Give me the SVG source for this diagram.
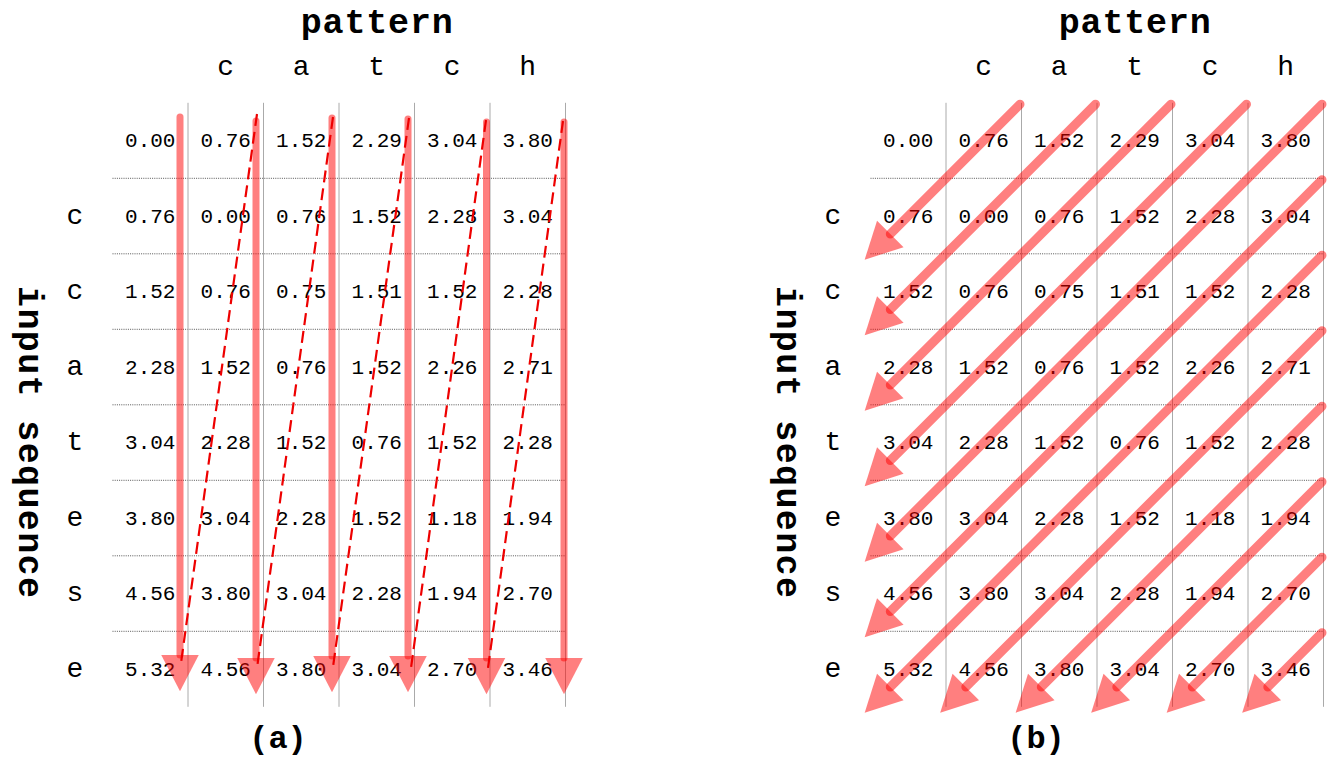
<svg xmlns="http://www.w3.org/2000/svg" width="1332" height="759" viewBox="0 0 1332 759">
<style>
.bg{fill:#ffffff}
.h{stroke:#555;stroke-width:1;stroke-dasharray:1 1.2;fill:none}
.v{stroke:#aaa;stroke-width:1;fill:none}
.val{font-family:"Liberation Mono","Courier New",monospace;font-size:21px;fill:#000;text-anchor:middle}
.lab{font-family:"Liberation Mono","Courier New",monospace;font-size:28px;fill:#000;text-anchor:middle}
.title{font-family:"Liberation Mono","Courier New",monospace;font-size:35px;font-weight:bold;fill:#000;text-anchor:middle}
.cap{font-family:"Liberation Mono","Courier New",monospace;font-size:32px;font-weight:bold;fill:#000;text-anchor:middle}
.va{stroke:#ff0000;stroke-opacity:0.5;stroke-width:7;stroke-linecap:round;fill:none;marker-end:url(#head)}
.db{stroke:#ff0000;stroke-opacity:0.5;stroke-width:9;stroke-linecap:round;fill:none;marker-end:url(#head)}
.dash{stroke:#ee0000;stroke-width:2.2;stroke-dasharray:12 6;fill:none}
</style>
<defs>
<marker id="head" markerUnits="userSpaceOnUse" markerWidth="40" markerHeight="40" viewBox="-1 -16 31 32" refX="0" refY="0" orient="auto" overflow="visible">
<path d="M0,-15 L29,0 L0,15 Z" fill="#ff0000" fill-opacity="0.5"/>
</marker>
</defs>
<rect class="bg" x="0" y="0" width="1332" height="759"/>

<!-- ===== Panel (a) ===== -->
<g id="grid-a">
<line class="h" x1="112.5" y1="178.3" x2="565.5" y2="178.3"/>
<line class="h" x1="112.5" y1="253.8" x2="565.5" y2="253.8"/>
<line class="h" x1="112.5" y1="329.3" x2="565.5" y2="329.3"/>
<line class="h" x1="112.5" y1="404.8" x2="565.5" y2="404.8"/>
<line class="h" x1="112.5" y1="480.3" x2="565.5" y2="480.3"/>
<line class="h" x1="112.5" y1="555.8" x2="565.5" y2="555.8"/>
<line class="h" x1="112.5" y1="631.3" x2="565.5" y2="631.3"/>
<line class="v" x1="188" y1="102.8" x2="188" y2="706.8"/>
<line class="v" x1="263.5" y1="102.8" x2="263.5" y2="706.8"/>
<line class="v" x1="339" y1="102.8" x2="339" y2="706.8"/>
<line class="v" x1="414.5" y1="102.8" x2="414.5" y2="706.8"/>
<line class="v" x1="490" y1="102.8" x2="490" y2="706.8"/>
<line class="v" x1="565.5" y1="102.8" x2="565.5" y2="706.8"/>
</g>
<g id="labels-a">
<text class="title" x="376.75" y="33" textLength="152" lengthAdjust="spacing">pattern</text>
<text class="lab" x="225.75" y="75">c</text>
<text class="lab" x="301.25" y="75">a</text>
<text class="lab" x="376.75" y="75">t</text>
<text class="lab" x="452.25" y="75">c</text>
<text class="lab" x="527.75" y="75">h</text>
<text class="title" transform="translate(19,442) rotate(90)" x="0" y="0" textLength="312" lengthAdjust="spacing">input sequence</text>
<text class="lab" x="75" y="223.5">c</text>
<text class="lab" x="75" y="299">c</text>
<text class="lab" x="75" y="374.5">a</text>
<text class="lab" x="75" y="450">t</text>
<text class="lab" x="75" y="525.5">e</text>
<text class="lab" x="75" y="601">s</text>
<text class="lab" x="75" y="676.5">e</text>
<text class="cap" x="278" y="748">(a)</text>
</g>
<g id="values-a">
<text class="val" x="150.25" y="147">0.00</text><text class="val" x="225.75" y="147">0.76</text><text class="val" x="301.25" y="147">1.52</text><text class="val" x="376.75" y="147">2.29</text><text class="val" x="452.25" y="147">3.04</text><text class="val" x="527.75" y="147">3.80</text>
<text class="val" x="150.25" y="222.5">0.76</text><text class="val" x="225.75" y="222.5">0.00</text><text class="val" x="301.25" y="222.5">0.76</text><text class="val" x="376.75" y="222.5">1.52</text><text class="val" x="452.25" y="222.5">2.28</text><text class="val" x="527.75" y="222.5">3.04</text>
<text class="val" x="150.25" y="298">1.52</text><text class="val" x="225.75" y="298">0.76</text><text class="val" x="301.25" y="298">0.75</text><text class="val" x="376.75" y="298">1.51</text><text class="val" x="452.25" y="298">1.52</text><text class="val" x="527.75" y="298">2.28</text>
<text class="val" x="150.25" y="373.5">2.28</text><text class="val" x="225.75" y="373.5">1.52</text><text class="val" x="301.25" y="373.5">0.76</text><text class="val" x="376.75" y="373.5">1.52</text><text class="val" x="452.25" y="373.5">2.26</text><text class="val" x="527.75" y="373.5">2.71</text>
<text class="val" x="150.25" y="449">3.04</text><text class="val" x="225.75" y="449">2.28</text><text class="val" x="301.25" y="449">1.52</text><text class="val" x="376.75" y="449">0.76</text><text class="val" x="452.25" y="449">1.52</text><text class="val" x="527.75" y="449">2.28</text>
<text class="val" x="150.25" y="524.5">3.80</text><text class="val" x="225.75" y="524.5">3.04</text><text class="val" x="301.25" y="524.5">2.28</text><text class="val" x="376.75" y="524.5">1.52</text><text class="val" x="452.25" y="524.5">1.18</text><text class="val" x="527.75" y="524.5">1.94</text>
<text class="val" x="150.25" y="600">4.56</text><text class="val" x="225.75" y="600">3.80</text><text class="val" x="301.25" y="600">3.04</text><text class="val" x="376.75" y="600">2.28</text><text class="val" x="452.25" y="600">1.94</text><text class="val" x="527.75" y="600">2.70</text>
<text class="val" x="150.25" y="675.5">5.32</text><text class="val" x="225.75" y="675.5">4.56</text><text class="val" x="301.25" y="675.5">3.80</text><text class="val" x="376.75" y="675.5">3.04</text><text class="val" x="452.25" y="675.5">2.70</text><text class="val" x="527.75" y="675.5">3.46</text>
</g>
<g id="connectors-a">
<line class="va" x1="180" y1="117" x2="180" y2="655"/>
<line class="va" x1="256" y1="121" x2="256" y2="658"/>
<line class="va" x1="332" y1="118" x2="332" y2="656"/>
<line class="va" x1="408" y1="119" x2="408" y2="656"/>
<line class="va" x1="486.5" y1="122" x2="486.5" y2="658"/>
<line class="va" x1="564" y1="122" x2="564" y2="658"/>
<line class="dash" x1="257" y1="114" x2="181" y2="663"/>
<line class="dash" x1="333" y1="117" x2="257" y2="668"/>
<line class="dash" x1="409" y1="118" x2="333" y2="667"/>
<line class="dash" x1="486" y1="120" x2="411" y2="668"/>
<line class="dash" x1="563" y1="121" x2="488" y2="668"/>
</g>

<!-- ===== Panel (b) ===== -->
<g id="grid-b">
<line class="h" x1="870.5" y1="178.3" x2="1323.5" y2="178.3"/>
<line class="h" x1="870.5" y1="253.8" x2="1323.5" y2="253.8"/>
<line class="h" x1="870.5" y1="329.3" x2="1323.5" y2="329.3"/>
<line class="h" x1="870.5" y1="404.8" x2="1323.5" y2="404.8"/>
<line class="h" x1="870.5" y1="480.3" x2="1323.5" y2="480.3"/>
<line class="h" x1="870.5" y1="555.8" x2="1323.5" y2="555.8"/>
<line class="h" x1="870.5" y1="631.3" x2="1323.5" y2="631.3"/>
<line class="v" x1="946" y1="102.8" x2="946" y2="706.8"/>
<line class="v" x1="1021.5" y1="102.8" x2="1021.5" y2="706.8"/>
<line class="v" x1="1097" y1="102.8" x2="1097" y2="706.8"/>
<line class="v" x1="1172.5" y1="102.8" x2="1172.5" y2="706.8"/>
<line class="v" x1="1248" y1="102.8" x2="1248" y2="706.8"/>
<line class="v" x1="1323.5" y1="102.8" x2="1323.5" y2="706.8"/>
</g>
<g id="labels-b">
<text class="title" x="1134.75" y="33" textLength="152" lengthAdjust="spacing">pattern</text>
<text class="lab" x="983.75" y="75">c</text>
<text class="lab" x="1059.25" y="75">a</text>
<text class="lab" x="1134.75" y="75">t</text>
<text class="lab" x="1210.25" y="75">c</text>
<text class="lab" x="1285.75" y="75">h</text>
<text class="title" transform="translate(777,442) rotate(90)" x="0" y="0" textLength="312" lengthAdjust="spacing">input sequence</text>
<text class="lab" x="833" y="223.5">c</text>
<text class="lab" x="833" y="299">c</text>
<text class="lab" x="833" y="374.5">a</text>
<text class="lab" x="833" y="450">t</text>
<text class="lab" x="833" y="525.5">e</text>
<text class="lab" x="833" y="601">s</text>
<text class="lab" x="833" y="676.5">e</text>
<text class="cap" x="1036" y="748">(b)</text>
</g>
<g id="values-b">
<text class="val" x="908.25" y="147">0.00</text><text class="val" x="983.75" y="147">0.76</text><text class="val" x="1059.25" y="147">1.52</text><text class="val" x="1134.75" y="147">2.29</text><text class="val" x="1210.25" y="147">3.04</text><text class="val" x="1285.75" y="147">3.80</text>
<text class="val" x="908.25" y="222.5">0.76</text><text class="val" x="983.75" y="222.5">0.00</text><text class="val" x="1059.25" y="222.5">0.76</text><text class="val" x="1134.75" y="222.5">1.52</text><text class="val" x="1210.25" y="222.5">2.28</text><text class="val" x="1285.75" y="222.5">3.04</text>
<text class="val" x="908.25" y="298">1.52</text><text class="val" x="983.75" y="298">0.76</text><text class="val" x="1059.25" y="298">0.75</text><text class="val" x="1134.75" y="298">1.51</text><text class="val" x="1210.25" y="298">1.52</text><text class="val" x="1285.75" y="298">2.28</text>
<text class="val" x="908.25" y="373.5">2.28</text><text class="val" x="983.75" y="373.5">1.52</text><text class="val" x="1059.25" y="373.5">0.76</text><text class="val" x="1134.75" y="373.5">1.52</text><text class="val" x="1210.25" y="373.5">2.26</text><text class="val" x="1285.75" y="373.5">2.71</text>
<text class="val" x="908.25" y="449">3.04</text><text class="val" x="983.75" y="449">2.28</text><text class="val" x="1059.25" y="449">1.52</text><text class="val" x="1134.75" y="449">0.76</text><text class="val" x="1210.25" y="449">1.52</text><text class="val" x="1285.75" y="449">2.28</text>
<text class="val" x="908.25" y="524.5">3.80</text><text class="val" x="983.75" y="524.5">3.04</text><text class="val" x="1059.25" y="524.5">2.28</text><text class="val" x="1134.75" y="524.5">1.52</text><text class="val" x="1210.25" y="524.5">1.18</text><text class="val" x="1285.75" y="524.5">1.94</text>
<text class="val" x="908.25" y="600">4.56</text><text class="val" x="983.75" y="600">3.80</text><text class="val" x="1059.25" y="600">3.04</text><text class="val" x="1134.75" y="600">2.28</text><text class="val" x="1210.25" y="600">1.94</text><text class="val" x="1285.75" y="600">2.70</text>
<text class="val" x="908.25" y="675.5">5.32</text><text class="val" x="983.75" y="675.5">4.56</text><text class="val" x="1059.25" y="675.5">3.80</text><text class="val" x="1134.75" y="675.5">3.04</text><text class="val" x="1210.25" y="675.5">2.70</text><text class="val" x="1285.75" y="675.5">3.46</text>
</g>
<g id="connectors-b">
<line class="db" x1="1020" y1="104.3" x2="890.3" y2="234"/>
<line class="db" x1="1095.5" y1="104.3" x2="890.3" y2="309.5"/>
<line class="db" x1="1171" y1="104.3" x2="890.3" y2="385"/>
<line class="db" x1="1246.5" y1="104.3" x2="890.3" y2="460.5"/>
<line class="db" x1="1322" y1="104.3" x2="890.3" y2="536"/>
<line class="db" x1="1322" y1="179.8" x2="890.3" y2="611.5"/>
<line class="db" x1="1322" y1="255.3" x2="890.3" y2="687"/>
<line class="db" x1="1322" y1="330.8" x2="965.8" y2="687"/>
<line class="db" x1="1322" y1="406.3" x2="1041.3" y2="687"/>
<line class="db" x1="1322" y1="481.8" x2="1116.8" y2="687"/>
<line class="db" x1="1322" y1="557.3" x2="1192.3" y2="687"/>
<line class="db" x1="1322" y1="632.8" x2="1267.8" y2="687"/>
</g>
</svg>
